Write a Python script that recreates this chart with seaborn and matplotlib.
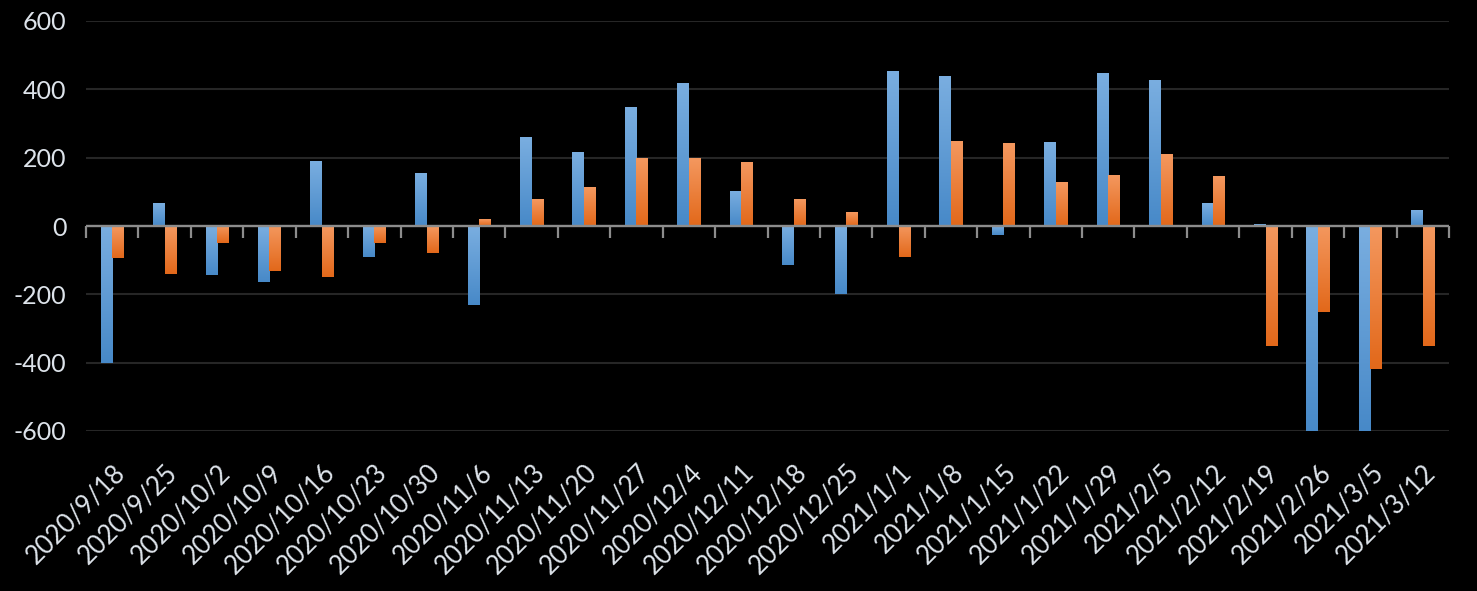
import numpy as np
import pandas as pd
import matplotlib
matplotlib.use("Agg")
import matplotlib.pyplot as plt
import matplotlib.transforms as mtransforms
from matplotlib.colors import LinearSegmentedColormap
import seaborn as sns

# ---- data ----
dates = ["2020/9/18", "2020/9/25", "2020/10/2", "2020/10/9", "2020/10/16",
         "2020/10/23", "2020/10/30", "2020/11/6", "2020/11/13", "2020/11/20",
         "2020/11/27", "2020/12/4", "2020/12/11", "2020/12/18", "2020/12/25",
         "2021/1/1", "2021/1/8", "2021/1/15", "2021/1/22", "2021/1/29",
         "2021/2/5", "2021/2/12", "2021/2/19", "2021/2/26", "2021/3/5",
         "2021/3/12"]
series_blue = [-402, 66, -143, -164, 189, -91, 154, -231, 260, 216,
               347, 420, 102, -115, -200, 453, 438, -27, 245, 447,
               426, 66, 5, -640, -640, 46]
series_orange = [-93, -140, -50, -132, -149, -50, -79, 20, 78, 113,
                 198, 198, 186, 78, 40, -92, 248, 242, 128, 148,
                 210, 145, -351, -253, -419, -351]
series_names = ["series1", "series2"]
y_ticks = [-600, -400, -200, 0, 200, 400, 600]

blue_mid, orange_mid = "#5B9BD5", "#ED7D31"
blue_grad = ["#7AAEE0", "#4789C8"]
orange_grad = ["#F4985F", "#E2681A"]
text_col = "#DDE3EA"

sns.set_theme(style="dark")
plt.rcParams["font.family"] = ["Lato", "DejaVu Sans"]
plt.rcParams["axes.unicode_minus"] = False

fig = plt.figure(figsize=(14.77, 5.91), dpi=100, facecolor="black")
ax = fig.add_axes([86 / 1477, 1 - 431 / 591, (1449 - 86) / 1477, (431 - 21) / 591])
ax.set_facecolor("black")

df = pd.DataFrame({
    "date": dates * 2,
    "value": series_blue + series_orange,
    "series": [series_names[0]] * len(dates) + [series_names[1]] * len(dates),
})
sns.barplot(data=df, x="date", y="value", hue="series", order=dates,
            hue_order=series_names, palette=[blue_mid, orange_mid],
            width=0.44, saturation=1, legend=False, ax=ax, errorbar=None,
            zorder=2)

xlim = ax.get_xlim()
ylim = (-600, 600)

# gradient fill for each bar (light at top, dark at bottom)
grad = np.linspace(0, 1, 256).reshape(-1, 1)
cmaps = [LinearSegmentedColormap.from_list("b", blue_grad),
         LinearSegmentedColormap.from_list("o", orange_grad)]
n = len(dates)
bars = [p for p in ax.patches if p.get_width() > 0]
for i, p in enumerate(bars):
    cmap = cmaps[0] if i < n else cmaps[1]
    x0, w = p.get_x(), p.get_width()
    y0, h = p.get_y(), p.get_height()
    lo, hi = min(y0, y0 + h), max(y0, y0 + h)
    lo_c, hi_c = max(lo, ylim[0]), min(hi, ylim[1])
    im = ax.imshow(grad, extent=[x0, x0 + w, lo_c, hi_c], origin="upper",
                   aspect="auto", cmap=cmap, zorder=2.1)
    im.set_clip_path(p)
    p.set_edgecolor("none")

ax.set_xlim(xlim)
ax.set_ylim(ylim)
ax.set_yticks(y_ticks)
ax.set_xlabel("")
ax.set_ylabel("")
for s in ax.spines.values():
    s.set_visible(False)

ax.grid(False)
ax.yaxis.grid(True, color="#262626", linewidth=1.5, zorder=0)
ax.set_axisbelow(True)

# zero axis line with category boundary tick marks
ax.axhline(0, color="#8C8C8C", linewidth=1.7, zorder=3)
sec = ax.secondary_xaxis(0, transform=ax.transData)
sec.set_xticks(np.arange(len(dates) + 1) - 0.5)
sec.tick_params(axis="x", which="both", bottom=True, top=False,
                labelbottom=False, labeltop=False, direction="out",
                length=8.6, width=1.6, color="#8C8C8C")
for s in sec.spines.values():
    s.set_visible(False)

ax.set_xticks(range(len(dates)))
ax.set_xticklabels(dates, rotation=45, ha="right", va="center",
                   rotation_mode="anchor")
ax.tick_params(axis="x", length=0, pad=27, labelsize=18.6, labelcolor=text_col)
ax.tick_params(axis="y", length=0, pad=14, labelsize=18, labelcolor=text_col)
offset = mtransforms.ScaledTranslation(9 / 100, 0, fig.dpi_scale_trans)
for lab in ax.get_xticklabels():
    lab.set_transform(lab.get_transform() + offset)

fig.savefig("out.png", dpi=100, facecolor="black")
